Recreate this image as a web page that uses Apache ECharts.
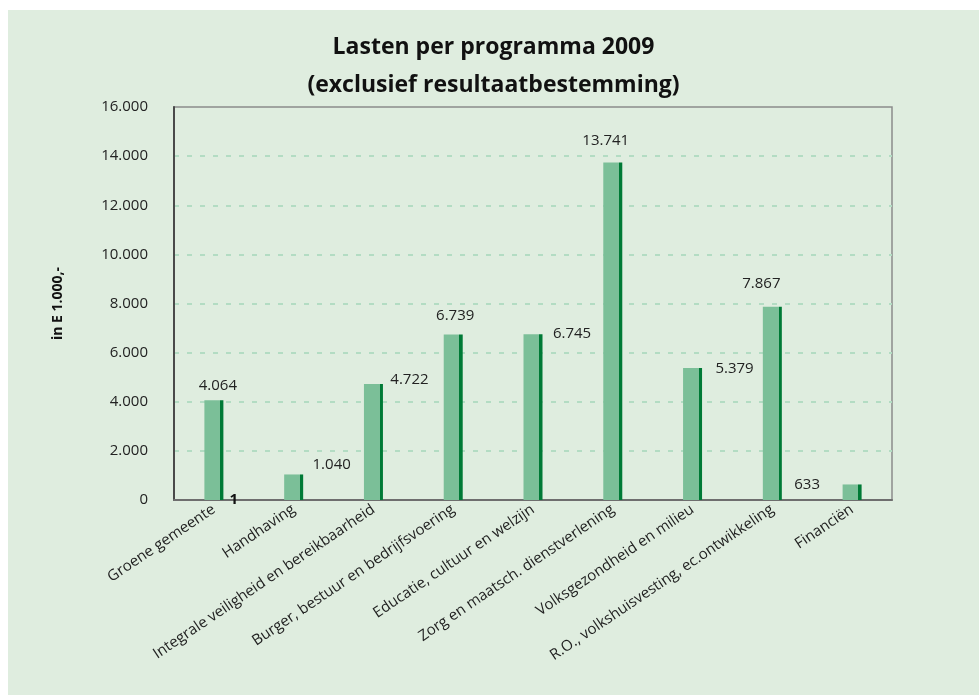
<!DOCTYPE html>
<html>
<head>
<meta charset="utf-8">
<script src="https://cdn.jsdelivr.net/npm/echarts@6/dist/echarts.min.js"></script>
<style>
  html, body { margin: 0; padding: 0; background: #ffffff; }
  #chart { position: absolute; left: 8px; top: 10px; width: 971px; height: 685px; }
</style>
</head>
<body>
<div id="chart"></div>
<script>
const categories = [
  "Groene gemeente",
  "Handhaving",
  "Integrale veiligheid en bereikbaarheid",
  "Burger, bestuur en bedrijfsvoering",
  "Educatie, cultuur en welzijn",
  "Zorg en maatsch. dienstverlening",
  "Volksgezondheid en milieu",
  "R.O., volkshuisvesting, ec.ontwikkeling",
  "Financiën"
];
const lasten = [4064, 1040, 4722, 6739, 6745, 13741, 5379, 7867, 633];
const extra = [1, null, null, null, null, null, null, null, null];
const yTicks = [0, 2000, 4000, 6000, 8000, 10000, 12000, 14000, 16000];

// where the labels sit next to each bar, as in the original
const labelOffsets = [
  [4, -2], [38, 3], [36, 8], [2, -6], [39, 12], [-7, -9], [42, 13], [-11, -11], [-45, 13]
];

function fmt(v) {
  return String(v).replace(/\B(?=(\d{3})+(?!\d))/g, ".");
}

const barColor = {
  type: "linear", x: 0, y: 0, x2: 1, y2: 0,
  colorStops: [
    { offset: 0, color: "#7bbf98" },
    { offset: 0.83, color: "#7bbf98" },
    { offset: 0.83, color: "#007a36" },
    { offset: 1, color: "#007a36" }
  ]
};

const chart = echarts.init(document.getElementById("chart"), null, { renderer: "canvas" });

chart.setOption({
  animation: false,
  backgroundColor: "#dfeddf",
  title: {
    text: "Lasten per programma 2009\n(exclusief resultaatbestemming)",
    left: "center",
    top: 13,
    textStyle: {
      fontFamily: "Open Sans",
      fontSize: 23,
      fontWeight: "bold",
      color: "#111",
      lineHeight: 38
    }
  },
  grid: {
    left: 166,
    right: 87,
    top: 97,
    bottom: 195,
    show: true,
    borderColor: "#8c8c8c",
    borderWidth: 1.5
  },
  xAxis: {
    type: "category",
    data: categories,
    axisTick: { show: false },
    axisLine: { lineStyle: { color: "#6e6e6e", width: 2 } },
    axisLabel: {
      interval: 0,
      rotate: 34,
      margin: 8,
      fontFamily: "Open Sans",
      fontSize: 15,
      color: "#222"
    }
  },
  yAxis: {
    type: "value",
    min: yTicks[0],
    max: yTicks[yTicks.length - 1],
    interval: yTicks[1] - yTicks[0],
    name: "in E 1.000,-",
    nameLocation: "middle",
    nameGap: 109,
    nameRotate: 90,
    nameTextStyle: {
      fontFamily: "Open Sans",
      fontSize: 14,
      fontWeight: "bold",
      color: "#111"
    },
    axisLine: { show: true, lineStyle: { color: "#4a4a4a", width: 2 } },
    axisTick: { show: false },
    axisLabel: {
      margin: 26,
      fontFamily: "Open Sans",
      fontSize: 15,
      color: "#222",
      formatter: fmt
    },
    splitLine: {
      showMinLine: false,
      showMaxLine: false,
      lineStyle: { color: "#b3dcc3", type: [5, 8], width: 2 }
    }
  },
  series: [
    {
      type: "bar",
      barWidth: 19,
      barGap: "-100%",
      data: lasten.map((v, i) => ({
        value: v,
        label: { offset: labelOffsets[i] }
      })),
      itemStyle: { color: barColor },
      label: {
        show: true,
        position: "top",
        fontFamily: "Open Sans",
        fontSize: 15,
        color: "#222",
        formatter: p => fmt(p.value)
      }
    },
    {
      type: "bar",
      barWidth: 19,
      data: extra,
      itemStyle: { color: "rgba(0,0,0,0)" },
      label: {
        show: true,
        position: "top",
        offset: [20, 12],
        fontFamily: "Open Sans",
        fontSize: 15,
        fontWeight: "bold",
        color: "#111",
        formatter: p => fmt(p.value)
      }
    }
  ]
});
</script>
</body>
</html>
